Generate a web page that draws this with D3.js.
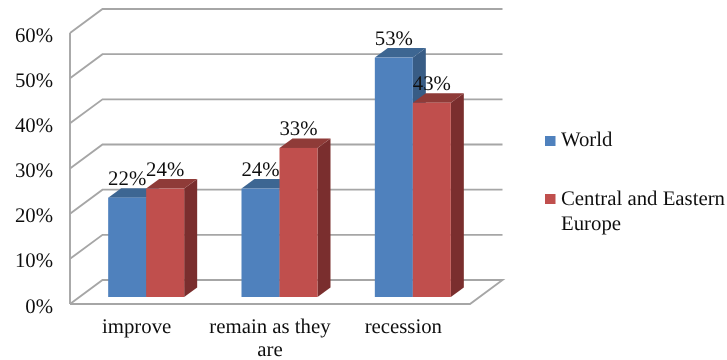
<!DOCTYPE html>
<html><head><meta charset="utf-8">
<script src="https://cdn.jsdelivr.net/npm/d3@7/dist/d3.min.js"></script>
<style>html,body{margin:0;padding:0;background:#fff}svg{display:block}text{font-family:"Liberation Serif",serif;fill:#111;text-rendering:geometricPrecision}</style>
</head><body><svg id="c" width="727" height="360"></svg>
<script>
const categories = [["improve"], ["remain as they", "are"], ["recession"]];
const worldValues = [0.22, 0.24, 0.53];
const ceeValues = [0.24, 0.33, 0.43];
const yTicks = [0, 0.1, 0.2, 0.3, 0.4, 0.5, 0.6];
const seriesNames = [["World"], ["Central and Eastern", "Europe"]];
const colors = [
  {front:"#4f81bd", top:"#3e6692", side:"#375b85"},
  {front:"#c0504d", top:"#8f3b39", side:"#7a2f2d"}
];

const svg = d3.select("#c");
svg.append("defs").append("filter").attr("id","soft").attr("x","-5%").attr("y","-5%").attr("width","110%").attr("height","110%")
  .append("feGaussianBlur").attr("stdDeviation",0.4);
const root = svg.append("g").attr("filter","url(#soft)");
root.append("rect").attr("width",727).attr("height",360).attr("fill","#fff");
const fs = 20.8;
const depth = {x:32.5, y:24};
const barShift = {x:9.5, y:7};
const barDepth = {x:13, y:9.5};
const y = d3.scaleLinear().domain([0,0.6]).range([304,33]);
const x = d3.scaleBand().domain(d3.range(categories.length)).range([70,470]);
const barW = 38;

// walls
const grid = "#a6a6a6";
const wall = root.append("g").attr("fill","none").attr("stroke",grid).attr("stroke-width",1.9);
yTicks.forEach(t=>{
  const pts = t===0
    ? [[70,y(t)],[70+depth.x,y(t)-depth.y],[470+depth.x,y(t)-depth.y],[470,y(t)],[70,y(t)]]
    : [[70,y(t)],[70+depth.x,y(t)-depth.y],[470+depth.x,y(t)-depth.y]];
  wall.append("path").attr("d",d3.line()(pts));
});
wall.append("path").attr("d",d3.line()([[70,y(0)],[70,y(0.6)]]));

// y axis
const yAxis = root.append("g").attr("transform","translate(53,1.5)")
  .call(d3.axisLeft(y).tickValues(yTicks).tickSize(0).tickPadding(0).tickFormat(d3.format(".0%")));
yAxis.select(".domain").remove();
yAxis.selectAll("text").style("font-size",fs+"px").style("font-family",'"Liberation Serif",serif').attr("dy","0.32em");

// bars
function bar(cx, v, c){
  const x0 = cx, x1 = cx+barW;
  const yb = y(0)-barShift.y, yt = yb-(y(0)-y(v));
  const g = root.append("g");
  g.append("path").attr("fill",c.side).attr("d",d3.line()([[x1,yb],[x1+barDepth.x,yb-barDepth.y],[x1+barDepth.x,yt-barDepth.y],[x1,yt]])+"Z");
  g.append("path").attr("fill",c.top).attr("d",d3.line()([[x0,yt],[x0+barDepth.x,yt-barDepth.y],[x1+barDepth.x,yt-barDepth.y],[x1,yt]])+"Z");
  g.append("rect").attr("x",x0).attr("y",yt).attr("width",barW).attr("height",yb-yt).attr("fill",c.front);
}
const left = i => x(i)+x.bandwidth()/2+barShift.x-barW;
categories.forEach((_,i)=>{
  bar(left(i), worldValues[i], colors[0]);
  bar(left(i)+barW, ceeValues[i], colors[1]);
});
// data labels
categories.forEach((_,i)=>{
  [[worldValues[i],0],[ceeValues[i],1]].forEach(([v,k])=>{
    root.append("text").attr("x",left(i)+barW*(k+0.5)).attr("y",y(v)-barShift.y-13)
      .attr("text-anchor","middle").style("font-size",fs+"px").text(d3.format(".0%")(v));
  });
});
// category labels
categories.forEach((lines,i)=>{
  lines.forEach((s,j)=>{
    root.append("text").attr("x",x(i)+x.bandwidth()/2).attr("y",332.5+j*23)
      .attr("text-anchor","middle").style("font-size",fs+"px").text(s);
  });
});
// legend
const swatchY = [136,194];
const legendBase = [146,205];
seriesNames.forEach((lines,k)=>{
  root.append("rect").attr("x",545).attr("y",swatchY[k]).attr("width",10.5).attr("height",10).attr("fill",colors[k].front);
  lines.forEach((s,j)=>{
    root.append("text").attr("x",561).attr("y",legendBase[k]+j*24.5).style("font-size",fs+"px").text(s);
  });
});
</script></body></html>
